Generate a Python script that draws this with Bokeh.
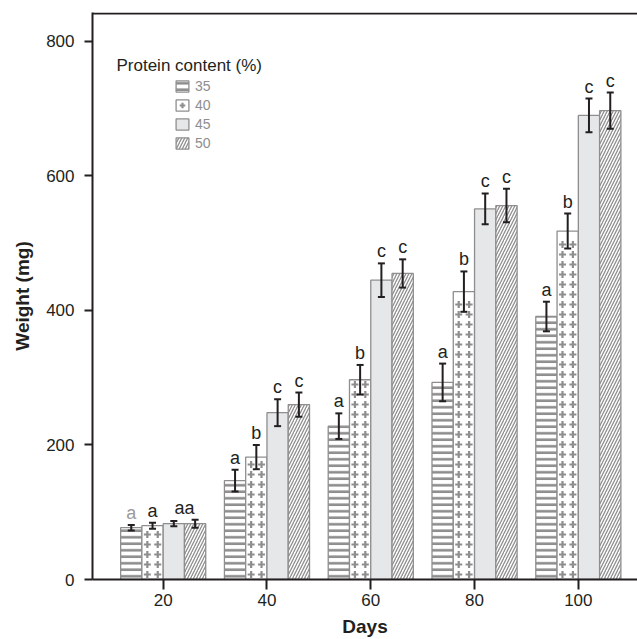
import numpy as np
from bokeh.plotting import figure
from bokeh.models import (ColumnDataSource, Whisker, TeeHead, Legend, LegendItem, Label,
                          FixedTicker, Range1d, Span)
from bokeh.embed import file_html
from bokeh.resources import INLINE
from bokeh.core.properties import value

# ---------------- data ----------------
days = [20, 40, 60, 80, 100]
protein = ["35", "40", "45", "50"]
w35 = [77, 147, 228, 293, 391]
w40 = [80, 182, 297, 428, 518]
w45 = [83, 248, 445, 551, 690]
w50 = [83, 260, 455, 556, 697]
e35 = [4, 16, 19, 28, 22]
e40 = [4.5, 18, 22, 30, 26]
e45 = [4, 20, 25, 23, 25]
e50 = [6, 18, 21, 25, 27]
l35 = ["a", "a", "a", "a", "a"]
l40 = ["a", "b", "b", "b", "b"]
l45 = ["aa", "c", "c", "c", "c"]
l50 = ["", "c", "c", "c", "c"]
y_ticks = [0, 200, 400, 600, 800]

weights = [w35, w40, w45, w50]
errors = [e35, e40, e45, e50]
letters = [l35, l40, l45, l50]

FONT = "Liberation Sans"
DARK = "#231f20"
GREY = "#8e8e8e"

X0, X1 = 6.38, 111.4
Y0, Y1 = 0, 843.0
Y_TOP_LINE = 841.6
FW, FH = 545, 567  # frame size in px

p = figure(width=637, height=639, output_backend="svg", toolbar_location=None,
           x_range=Range1d(X0, X1), y_range=Range1d(Y0, Y1),
           min_border=0, min_border_left=92, min_border_right=0, min_border_top=12,
           min_border_bottom=60)
p.outline_line_color = None
p.xgrid.grid_line_color = None
p.ygrid.grid_line_color = None
p.background_fill_color = "white"
p.border_fill_color = "white"

bw = 4.1
offsets = [-1.5 * bw, -0.5 * bw, 0.5 * bw, 1.5 * bw]

styles = [
    dict(fill_color="white", hatch_pattern="horizontal_line", hatch_color=GREY, hatch_scale=6.5, hatch_weight=2.6),
    dict(fill_color="white"),
    dict(fill_color="#e6e7e9"),
    dict(fill_color="white", hatch_pattern="right_diagonal_line", hatch_color=GREY, hatch_scale=6, hatch_weight=1.3),
]

renderers = []
plus_renderer = None
for i, pc in enumerate(protein):
    xs = [d + offsets[i] for d in days]
    src = ColumnDataSource(dict(x=xs, top=weights[i],
                                upper=[w + e for w, e in zip(weights[i], errors[i])],
                                lower=[w - e for w, e in zip(weights[i], errors[i])]))
    r = p.vbar(x="x", top="top", width=bw, source=src, line_color=GREY, line_width=1.3, **styles[i])
    renderers.append(r)
    if pc == "40":
        # plus-sign fill pattern inside each bar, derived from bar position & height
        ux = (X1 - X0) / FW
        uy = (Y1 - Y0) / FH
        px, py = [], []
        for xc, h in zip(xs, weights[i]):
            rows = np.arange(5 * uy, h - 4 * uy, 10 * uy)
            for yy in rows:
                for dx in (-5.2, 5.2):
                    px.append(xc + dx * ux)
                    py.append(yy)
        plus_renderer = p.scatter(px, py, marker="cross", size=7, line_color=GREY, line_width=2.2)
    wh = Whisker(base="x", upper="upper", lower="lower", source=src, line_color=DARK, line_width=2,
                 level="annotation",
                 upper_head=TeeHead(size=7, line_color=DARK, line_width=2),
                 lower_head=TeeHead(size=7, line_color=DARK, line_width=2))
    p.add_layout(wh)

lx, ly, lt, lc = [], [], [], []
for i in range(4):
    for j, d in enumerate(days):
        t = letters[i][j]
        if not t:
            continue
        x = d + offsets[i]
        top = weights[i][j] + errors[i][j]
        if i < 3 and letters[i + 1][j] == "":
            x = d + (offsets[i] + offsets[i + 1]) / 2
            top = max(top, weights[i + 1][j] + errors[i + 1][j])
        lx.append(x); ly.append(top); lt.append(t)
        lc.append("#9a9a9a" if (j == 0 and i == 0) else DARK)

p.text(x="x", y="y", text="t", text_color="c",
       source=ColumnDataSource(dict(x=lx, y=ly, t=lt, c=lc)),
       text_align="center", text_baseline="alphabetic", y_offset=-12,
       text_font_size="18px", text_font=value(FONT))

for ax in (p.xaxis[0], p.yaxis[0]):
    ax.axis_line_color = DARK
    ax.axis_line_width = 2
    ax.major_tick_line_color = DARK
    ax.major_tick_line_width = 2
    ax.minor_tick_line_color = None
    ax.major_tick_in = 0
    ax.major_label_text_font = FONT
    ax.major_label_text_font_size = "17px"
    ax.major_label_text_color = DARK
    ax.axis_label_text_font = FONT
    ax.axis_label_text_font_size = "19px"
    ax.axis_label_text_font_style = "bold"
    ax.axis_label_text_color = DARK

p.xaxis[0].ticker = FixedTicker(ticks=days)
p.xaxis[0].major_tick_out = 10
p.xaxis[0].major_label_standoff = 4
p.xaxis[0].axis_label = "Days"
p.xaxis[0].axis_label_standoff = 7

p.yaxis[0].ticker = FixedTicker(ticks=y_ticks)
p.yaxis[0].major_tick_out = 8
p.yaxis[0].major_label_standoff = 10
p.yaxis[0].axis_label = "Weight (mg)"
p.yaxis[0].axis_label_standoff = 10

p.add_layout(Span(location=Y_TOP_LINE, dimension="width", line_color=DARK, line_width=2))

items = []
for pc, r in zip(protein, renderers):
    rs = [r, plus_renderer] if pc == "40" else [r]
    items.append(LegendItem(label=pc, renderers=rs))
legend = Legend(items=items,
                location=(82, 428), padding=0, margin=0, border_line_color=None,
                background_fill_alpha=0, label_text_font_size="14px", label_text_color=GREY,
                label_text_font=FONT, glyph_width=16, glyph_height=14, label_height=14,
                spacing=3, label_standoff=5)
p.add_layout(legend)

p.add_layout(Label(x=11.0, y=764, text="Protein content (%)", text_font_size="17px",
                   text_font=FONT, text_color=DARK, text_baseline="alphabetic"))

open("out.html", "w").write(file_html(p, INLINE))
